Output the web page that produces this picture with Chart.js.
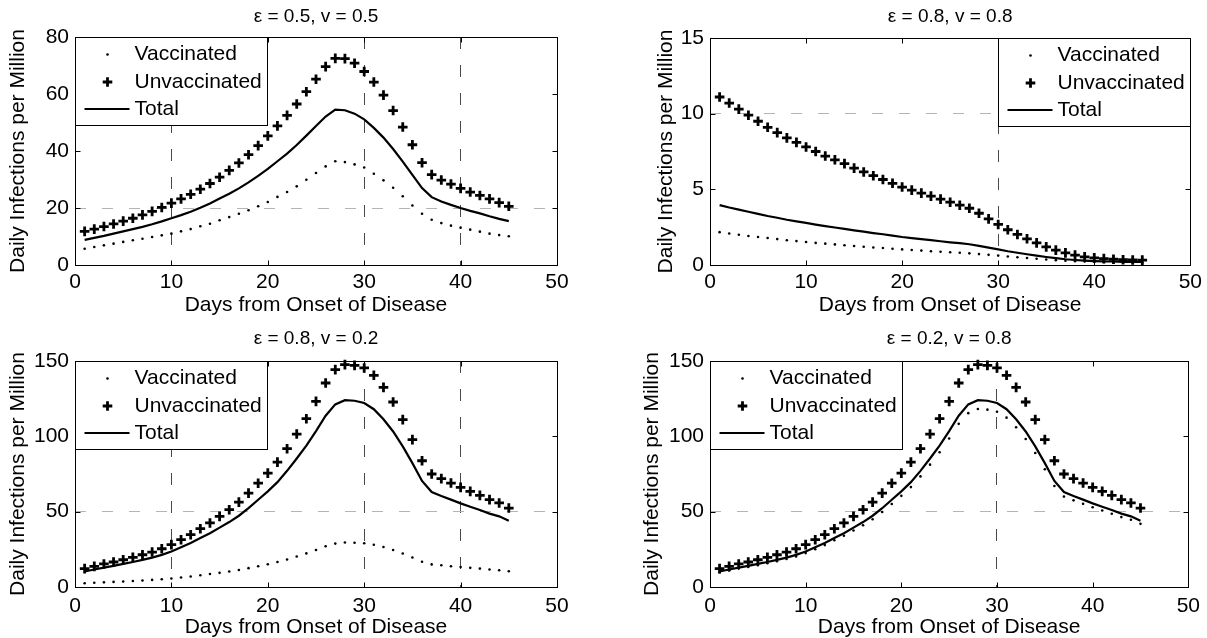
<!DOCTYPE html>
<html><head><meta charset="utf-8">
<script src="https://cdn.jsdelivr.net/npm/chart.js@4.4.0/dist/chart.umd.min.js"></script>
<style>
html,body{margin:0;padding:0;background:#fff;}
body{width:1207px;height:638px;position:relative;overflow:hidden;}
canvas{position:absolute;}
</style></head><body>
<canvas id="c1" width="603" height="319" style="left:0;top:0"></canvas>
<canvas id="c2" width="604" height="319" style="left:603px;top:0"></canvas>
<canvas id="c3" width="603" height="319" style="left:0;top:319px"></canvas>
<canvas id="c4" width="604" height="319" style="left:603px;top:319px"></canvas>
<script>
// ---------- data ----------
const days = [1,2,3,4,5,6,7,8,9,10,11,12,13,14,15,16,17,18,19,20,21,22,23,24,25,26,27,28,29,30,31,32,33,34,35,36,37,38,39,40,41,42,43,44,45];
const seriesLabels = ['Vaccinated', 'Unvaccinated', 'Total'];
const xLabel = 'Days from Onset of Disease';
const yLabel = 'Daily Infections per Million';
const xTicks = [0, 10, 20, 30, 40, 50];

// Panel 1: ε = 0.5, v = 0.5
const p1Title = 'ε = 0.5, v = 0.5';
const p1YTicks = [0, 20, 40, 60, 80];
const p1Vacc = [5.7,6.3,6.9,7.5,8.1,8.7,9.2,9.8,10.4,11.0,11.8,12.6,13.6,14.5,15.7,16.8,18.0,19.2,20.6,22.1,23.9,25.6,27.6,29.9,32.3,34.6,36.4,36.1,35.3,34.2,32.0,29.7,27.1,24.1,20.9,18.0,15.9,14.7,13.8,13.1,12.4,11.7,11.0,10.5,10.1];
const p1Unvacc = [11.8,12.6,13.5,14.4,15.4,16.4,17.6,18.8,20.2,21.7,23.2,24.8,26.6,28.6,30.8,33.2,35.8,38.7,41.9,45.3,48.8,52.5,56.5,60.8,65.2,69.6,72.5,72.4,70.8,67.9,64.2,59.6,54.2,48.4,42.2,35.9,31.7,29.8,28.4,26.9,25.6,24.4,23.2,21.9,20.6];
const p1Total = [8.8,9.5,10.2,11.0,11.8,12.6,13.4,14.3,15.3,16.4,17.5,18.7,20.1,21.6,23.3,25.0,26.9,29.0,31.3,33.7,36.4,39.1,42.1,45.4,48.8,52.1,54.5,54.3,53.1,51.1,48.1,44.7,40.7,36.3,31.6,27.0,23.8,22.3,21.1,20.0,19.0,18.1,17.1,16.2,15.4];

// Panel 2: ε = 0.8, v = 0.8
const p2Title = 'ε = 0.8, v = 0.8';
const p2YTicks = [0, 5, 10, 15];
const p2Vacc = [2.17,2.08,2.0,1.92,1.85,1.78,1.71,1.64,1.58,1.52,1.46,1.41,1.36,1.31,1.26,1.21,1.16,1.12,1.07,1.03,0.99,0.95,0.91,0.88,0.84,0.81,0.77,0.72,0.67,0.62,0.56,0.51,0.46,0.41,0.36,0.32,0.28,0.25,0.23,0.21,0.2,0.19,0.18,0.17,0.17];
const p2Unvacc = [11.1,10.7,10.3,9.9,9.5,9.1,8.75,8.4,8.1,7.8,7.5,7.2,6.95,6.7,6.4,6.15,5.9,5.65,5.4,5.15,4.95,4.75,4.55,4.35,4.15,3.95,3.75,3.42,3.05,2.68,2.33,2.02,1.73,1.46,1.2,0.98,0.8,0.65,0.54,0.47,0.42,0.38,0.35,0.33,0.32];
const p2Total = [3.96,3.80,3.66,3.52,3.38,3.24,3.12,2.99,2.88,2.78,2.67,2.57,2.48,2.39,2.29,2.20,2.11,2.03,1.94,1.85,1.78,1.71,1.64,1.57,1.50,1.44,1.37,1.26,1.15,1.03,0.91,0.81,0.71,0.62,0.53,0.45,0.38,0.33,0.29,0.26,0.24,0.23,0.21,0.20,0.20];

// Panel 3: ε = 0.8, v = 0.2
const p3Title = 'ε = 0.8, v = 0.2';
const p3YTicks = [0, 50, 100, 150];
const p3Vacc = [2.5,2.8,3.1,3.4,3.7,4.0,4.3,4.7,5.1,5.6,6.3,7.0,7.8,8.6,9.4,10.3,11.3,12.5,13.8,15.1,16.6,18.3,20.2,22.3,24.6,27.0,28.8,29.5,29.4,29.0,28.0,26.5,24.6,22.2,19.6,16.8,15.0,14.4,13.8,13.2,12.7,12.2,11.6,11.1,10.5];
const p3Unvacc = [12.2,13.7,15.3,16.6,18.1,19.7,21.4,23.2,25.4,28.1,31.4,34.7,38.7,42.5,46.9,51.3,56.3,62.3,68.9,75.6,82.9,91.8,101.5,111.7,123.2,135.4,144.3,147.6,147.1,145.4,140.5,132.5,122.8,111.1,97.8,83.8,75.0,71.9,69.0,66.1,63.5,60.8,58.0,55.8,52.4];
const p3Total = [10.3,11.6,12.9,14.0,15.3,16.6,18.0,19.5,21.3,23.6,26.4,29.2,32.5,35.7,39.4,43.1,47.3,52.3,57.9,63.5,69.6,77.1,85.3,93.8,103.5,113.7,121.2,124.0,123.6,122.1,118.0,111.3,103.2,93.3,82.2,70.4,63.0,60.4,58.0,55.5,53.3,51.1,48.7,46.9,44.0];

// Panel 4: ε = 0.2, v = 0.8
const p4Title = 'ε = 0.2, v = 0.8';
const p4YTicks = [0, 50, 100, 150];
const p4Vacc = [9.8,11.0,12.2,13.3,14.5,15.8,17.1,18.6,20.3,22.5,25.1,27.8,31.0,34.0,37.5,41.0,45.0,49.8,55.1,60.5,66.3,73.4,81.2,89.4,98.6,108.3,115.4,118.1,117.7,116.3,112.4,106.0,98.2,88.9,78.2,67.0,60.0,57.5,55.2,52.9,50.8,48.6,46.4,44.6,41.9];
const p4Unvacc = [12.2,13.7,15.3,16.6,18.1,19.7,21.4,23.2,25.4,28.1,31.4,34.7,38.7,42.5,46.9,51.3,56.3,62.3,68.9,75.6,82.9,91.8,101.5,111.7,123.2,135.4,144.3,147.6,147.1,145.4,140.5,132.5,122.8,111.1,97.8,83.8,75.0,71.9,69.0,66.1,63.5,60.8,58.0,55.8,52.4];
const p4Total = [10.3,11.6,12.9,14.0,15.3,16.6,18.0,19.5,21.3,23.6,26.4,29.2,32.5,35.7,39.4,43.1,47.3,52.3,57.9,63.5,69.6,77.1,85.3,93.8,103.5,113.7,121.2,124.0,123.6,122.1,118.0,111.3,103.2,93.3,82.2,70.4,63.0,60.4,58.0,55.5,53.3,51.1,48.7,46.9,44.0];

// ---------- styling / layout ----------
const FONT = "'Liberation Sans', Arial, Helvetica, sans-serif";
const FS = 21;        // axis, tick, legend font size
const TFS = 19;       // panel title font size
const LH = 1.2;

Chart.defaults.font.family = FONT;
Chart.defaults.color = '#000';

const matlabFrame = {
  id: 'matlabFrame',
  afterDatasetsDraw(chart, args, o) {
    const {ctx, chartArea: a, scales} = chart;
    const L = Math.round(a.left) + 0.5, R = Math.round(a.right) + 0.5;
    const T = Math.round(a.top) + 0.5, B = Math.round(a.bottom) + 0.5;
    ctx.save();
    ctx.strokeStyle = '#000';
    ctx.lineWidth = 1;
    ctx.setLineDash([]);
    ctx.beginPath();
    for (const v of o.xTicks) {
      const px = Math.round(scales.x.getPixelForValue(v)) + 0.5;
      ctx.moveTo(px, B); ctx.lineTo(px, B - 5);
      ctx.moveTo(px, T); ctx.lineTo(px, T + 5);
    }
    for (const v of o.yTicks) {
      const py = Math.round(scales.y.getPixelForValue(v)) + 0.5;
      ctx.moveTo(L, py); ctx.lineTo(L + 5, py);
      ctx.moveTo(R, py); ctx.lineTo(R - 5, py);
    }
    ctx.stroke();
    ctx.strokeRect(L, T, R - L, B - T);

    // legend box
    const W = 192, H = 88;
    const x0 = o.legendSide === 'left' ? L : R - W;
    const y0 = T;
    ctx.fillStyle = '#fff';
    ctx.fillRect(x0, y0, W, H);
    ctx.strokeRect(x0, y0, W, H);
    const rows = [17, 44.5, 71.5];
    chart.data.datasets.forEach((ds, i) => {
      const y = y0 + rows[i];
      const mx = x0 + 32;
      ctx.strokeStyle = '#000';
      ctx.fillStyle = '#000';
      if (ds.pointStyle === 'circle') {
        ctx.beginPath(); ctx.arc(mx, y, ds.pointRadius, 0, Math.PI * 2); ctx.fill();
      } else if (ds.pointStyle === 'cross') {
        ctx.lineWidth = ds.pointBorderWidth;
        ctx.beginPath();
        ctx.moveTo(mx - ds.pointRadius, y); ctx.lineTo(mx + ds.pointRadius, y);
        ctx.moveTo(mx, y - ds.pointRadius); ctx.lineTo(mx, y + ds.pointRadius);
        ctx.stroke();
      } else {
        ctx.lineWidth = ds.borderWidth;
        ctx.beginPath(); ctx.moveTo(x0 + 9, y); ctx.lineTo(x0 + 54, y); ctx.stroke();
      }
      ctx.font = FS + 'px ' + FONT;
      ctx.textAlign = 'left';
      ctx.textBaseline = 'middle';
      ctx.fillText(ds.label, x0 + 59, y);
    });
    ctx.restore();
  }
};

function makePanel(id, p) {
  const canvas = document.getElementById(id);
  const cw = canvas.width, ch = canvas.height;
  const a = p.area;
  const tPadTop = p.titleY - TFS * LH / 2;
  const tPadBottom = a.t - tPadTop - TFS * LH;
  const pts = arr => days.map((d, i) => ({x: d, y: arr[i]}));
  new Chart(canvas, {
    type: 'line',
    data: {
      datasets: [
        {label: seriesLabels[0], data: pts(p.vacc), showLine: false, pointStyle: 'circle',
         pointRadius: 1.3, pointBackgroundColor: '#000', pointBorderWidth: 0, borderColor: '#000', clip: false},
        {label: seriesLabels[1], data: pts(p.unvacc), showLine: false, pointStyle: 'cross',
         pointRadius: 4.8, pointBorderWidth: 2.8, pointBorderColor: '#000', borderColor: '#000', clip: false},
        {label: seriesLabels[2], data: pts(p.total), showLine: true, pointRadius: 0,
         borderColor: '#000', borderWidth: 2.2, tension: 0, fill: false, pointStyle: 'line'}
      ]
    },
    options: {
      responsive: false,
      animation: false,
      devicePixelRatio: 1,
      events: [],
      layout: {autoPadding: false, padding: {left: 0, top: 0, right: cw - a.r, bottom: 0}},
      plugins: {
        legend: {display: false},
        tooltip: {enabled: false},
        title: {display: true, text: p.title, fullSize: false, color: '#000',
                font: {size: TFS, weight: 'normal', lineHeight: LH},
                padding: {top: tPadTop, bottom: tPadBottom}},
        matlabFrame: {xTicks: xTicks, yTicks: p.yTicks, legendSide: p.legendSide}
      },
      scales: {
        x: {
          type: 'linear', min: 0, max: 50,
          afterBuildTicks: s => { s.ticks = xTicks.map(v => ({value: v})); },
          afterFit: s => { s.height = ch - a.b; },
          ticks: {padding: p.xTickPad, color: '#000', font: {size: FS, lineHeight: LH}},
          grid: {drawTicks: false, lineWidth: 1,
                 color: c => (c.tick && p.gridX.includes(c.tick.value)) ? '#4a4a4a' : 'rgba(0,0,0,0)'},
          border: {display: false, dash: [12, 16]},
          title: {display: true, text: xLabel, color: '#000', font: {size: FS, lineHeight: LH},
                  padding: {top: 0, bottom: ch - p.xTitleY - FS * LH / 2}}
        },
        y: {
          type: 'linear', min: p.yTicks[0], max: p.yTicks[p.yTicks.length - 1],
          afterBuildTicks: s => { s.ticks = p.yTicks.map(v => ({value: v})); },
          afterFit: s => { s.width = a.l; },
          ticks: {padding: 6, color: '#000', font: {size: FS, lineHeight: LH}},
          grid: {drawTicks: false, lineWidth: 1,
                 color: c => (c.tick && p.gridY.includes(c.tick.value)) ? '#b4b4b4' : 'rgba(0,0,0,0)'},
          border: {display: false, dash: [11, 16]},
          title: {display: true, text: yLabel, color: '#000', font: {size: FS, lineHeight: LH},
                  padding: {top: p.yTitleX - FS * LH / 2, bottom: 0}}
        }
      }
    },
    plugins: [matlabFrame]
  });
}

makePanel('c1', {title: p1Title, yTicks: p1YTicks, vacc: p1Vacc, unvacc: p1Unvacc, total: p1Total,
  area: {l: 75, t: 37, r: 557, b: 265}, titleY: 16.5, xTitleY: 305.5, yTitleX: 18.5, xTickPad: 5,
  legendSide: 'left', gridX: [10, 30, 40], gridY: [20]});
makePanel('c2', {title: p2Title, yTicks: p2YTicks, vacc: p2Vacc, unvacc: p2Unvacc, total: p2Total,
  area: {l: 107, t: 38, r: 588, b: 265}, titleY: 16.5, xTitleY: 305.5, yTitleX: 63, xTickPad: 5,
  legendSide: 'right', gridX: [30], gridY: [10]});
makePanel('c3', {title: p3Title, yTicks: p3YTicks, vacc: p3Vacc, unvacc: p3Unvacc, total: p3Total,
  area: {l: 75, t: 42, r: 557, b: 268}, titleY: 19.5, xTitleY: 308.5, yTitleX: 18.5, xTickPad: 7,
  legendSide: 'left', gridX: [10, 30, 40], gridY: [50]});
makePanel('c4', {title: p4Title, yTicks: p4YTicks, vacc: p4Vacc, unvacc: p4Unvacc, total: p4Total,
  area: {l: 107, t: 42, r: 588, b: 268}, titleY: 19.5, xTitleY: 308.5, yTitleX: 49.7, xTickPad: 7,
  legendSide: 'left', gridX: [30], gridY: [50]});
</script>
</body></html>
